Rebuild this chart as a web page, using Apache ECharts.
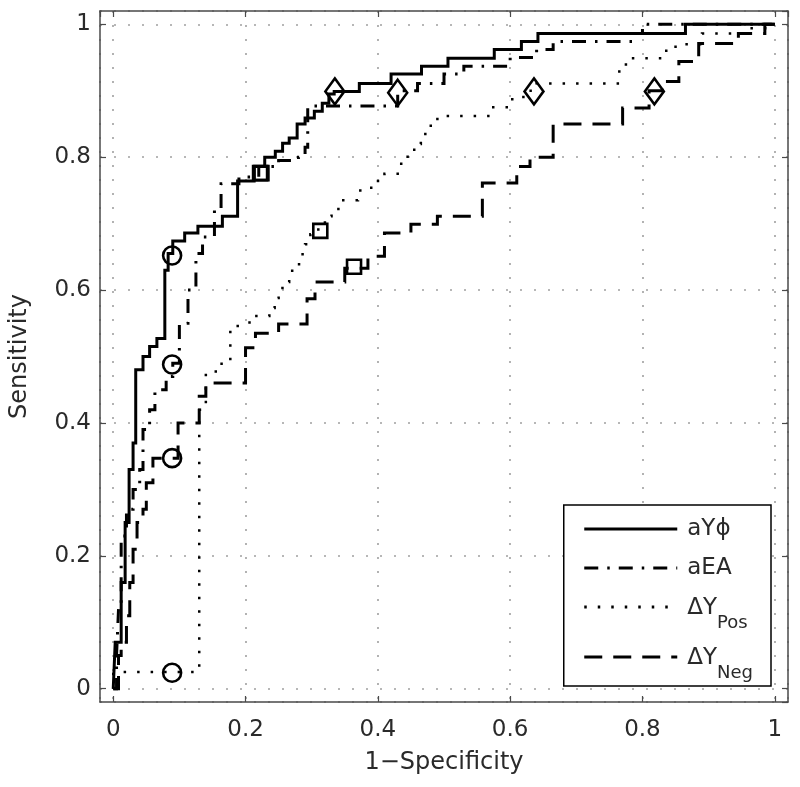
<!DOCTYPE html>
<html>
<head>
<meta charset="utf-8">
<script src="https://cdn.jsdelivr.net/npm/echarts@6/dist/echarts.min.js"></script>
<style>html,body{margin:0;padding:0;background:#fff}#c{width:800px;height:787px}</style>
</head>
<body>
<div id="c"></div>
<script>
// ---- data ----
const seriesNames = ['aYϕ', 'aEA', 'ΔYPos', 'ΔYNeg'];
const tickValues = [0, 0.2, 0.4, 0.6, 0.8, 1];

const aYphiX = [0, 0.003, 0.012, 0.018, 0.024, 0.03, 0.034, 0.045, 0.055, 0.066, 0.078, 0.083, 0.09, 0.108, 0.128, 0.165, 0.188, 0.213, 0.229, 0.245, 0.256, 0.266, 0.278, 0.29, 0.304, 0.316, 0.326, 0.334, 0.372, 0.42, 0.466, 0.506, 0.576, 0.617, 0.642, 0.865, 1.0];
const aYphiY = [0, 0.07, 0.16, 0.25, 0.33, 0.37, 0.48, 0.50, 0.515, 0.527, 0.63, 0.655, 0.674, 0.686, 0.696, 0.711, 0.764, 0.786, 0.80, 0.809, 0.821, 0.829, 0.85, 0.859, 0.869, 0.881, 0.895, 0.899, 0.911, 0.925, 0.937, 0.949, 0.962, 0.974, 0.986, 1.0, 1.0];

const aEAX = [0, 0.005, 0.008, 0.012, 0.02, 0.03, 0.04, 0.045, 0.055, 0.063, 0.08, 0.09, 0.1, 0.113, 0.125, 0.135, 0.153, 0.163, 0.19, 0.22, 0.25, 0.28, 0.29, 0.294, 0.43, 0.46, 0.5, 0.53, 0.6, 0.64, 0.665, 0.785, 0.8, 1.0];
const aEAY = [0, 0.05, 0.12, 0.23, 0.27, 0.30, 0.33, 0.39, 0.42, 0.45, 0.47, 0.49, 0.55, 0.60, 0.655, 0.68, 0.72, 0.76, 0.77, 0.786, 0.795, 0.80, 0.815, 0.877, 0.9, 0.911, 0.925, 0.937, 0.95, 0.962, 0.974, 0.986, 1.0, 1.0];

const dYPosX = [0, 0, 0.13, 0.14, 0.155, 0.168, 0.177, 0.198, 0.206, 0.228, 0.236, 0.244, 0.25, 0.26, 0.266, 0.278, 0.284, 0.29, 0.298, 0.31, 0.32, 0.33, 0.345, 0.37, 0.39, 0.41, 0.43, 0.445, 0.455, 0.465, 0.48, 0.49, 0.567, 0.6, 0.62, 0.64, 0.765, 0.775, 0.83, 0.85, 0.89, 0.96, 0.99, 1.0];
const dYPosY = [0, 0.025, 0.42, 0.474, 0.489, 0.493, 0.546, 0.549, 0.561, 0.561, 0.573, 0.588, 0.603, 0.612, 0.629, 0.639, 0.654, 0.669, 0.684, 0.70, 0.711, 0.722, 0.735, 0.75, 0.764, 0.775, 0.79, 0.805, 0.82, 0.835, 0.85, 0.862, 0.875, 0.887, 0.9, 0.911, 0.932, 0.949, 0.96, 0.97, 0.986, 0.994, 1.0, 1.0];

const dYNegX = [0, 0.008, 0.012, 0.02, 0.025, 0.03, 0.036, 0.045, 0.05, 0.06, 0.098, 0.13, 0.14, 0.2, 0.215, 0.25, 0.293, 0.305, 0.35, 0.385, 0.41, 0.45, 0.49, 0.558, 0.61, 0.63, 0.665, 0.77, 0.81, 0.83, 0.855, 0.885, 0.945, 0.985, 1.0];
const dYNegY = [0, 0.05, 0.07, 0.11, 0.16, 0.21, 0.25, 0.27, 0.31, 0.347, 0.40, 0.44, 0.46, 0.513, 0.535, 0.549, 0.587, 0.612, 0.633, 0.651, 0.686, 0.699, 0.711, 0.761, 0.786, 0.80, 0.85, 0.874, 0.9, 0.914, 0.944, 0.971, 0.986, 1.0, 1.0];

// operating-point markers, order: aYϕ, aEA, ΔYPos, ΔYNeg
const circleX = [0.089, 0.089, 0.089, 0.089];
const circleY = [0.652, 0.488, 0.024, 0.347];
const squareX = [0.224, 0.222, 0.313, 0.364];
const squareY = [0.776, 0.776, 0.689, 0.635];
const diamondX = [0.335, 0.43, 0.636, 0.818];
const diamondY = [0.899, 0.897, 0.899, 0.899];

// ---- build chart ----
const zip = (xs, ys) => xs.map((x, i) => [x, ys[i]]);
const FONT = 'DejaVu Sans';
const TXT = '#2a2a2a';
const FRAME = '#4a4a4a';

const lineStyles = [
  { width: 3, type: 'solid' },
  { width: 3, type: [14, 9, 2.5, 9] },
  { width: 2.5, type: [2.5, 11] },
  { width: 3, type: [18, 11] }
];
const curves = [zip(aYphiX, aYphiY), zip(aEAX, aEAY), zip(dYPosX, dYPosY), zip(dYNegX, dYNegY)];

const series = curves.map((d, i) => ({
  name: seriesNames[i], type: 'line', step: 'end', data: d,
  symbol: 'none', showSymbol: false, z: 3,
  lineStyle: Object.assign({ color: '#000', cap: 'butt', join: 'miter' }, lineStyles[i]),
  itemStyle: { color: '#000' }, animation: false, silent: true
}));

const markerStyle = { color: 'rgba(0,0,0,0)', borderColor: '#000', borderWidth: 2.6, opacity: 1 };
series.push({ name: 'circles', type: 'scatter', symbol: 'circle', symbolSize: 18, data: zip(circleX, circleY), itemStyle: markerStyle, z: 5, silent: true, animation: false });
series.push({ name: 'squares', type: 'scatter', symbol: 'rect', symbolSize: 14, data: zip(squareX, squareY), itemStyle: markerStyle, z: 5, silent: true, animation: false });
series.push({ name: 'diamonds', type: 'scatter', symbol: 'diamond', symbolSize: [19, 26], data: zip(diamondX, diamondY), itemStyle: markerStyle, z: 5, silent: true, animation: false });

const legendLabel = {
  'aYϕ': '{m|aYϕ}',
  'aEA': '{m|aEA}',
  'ΔYPos': '{mm|ΔY}{s|Pos}',
  'ΔYNeg': '{mm|ΔY}{s|Neg}'
};

const baseAxis = (extra) => Object.assign({
  type: 'value', min: -0.02, max: 1.02, splitNumber: 5,
  axisLine: { show: true, onZero: false, lineStyle: { color: FRAME, width: 1.5 } },
  axisTick: { show: true, inside: true, length: 6, lineStyle: { color: FRAME, width: 1.2 } },
  splitLine: { show: false },
  axisLabel: { show: false }
}, extra);

const mainLabel = {
  show: true, fontFamily: FONT, fontSize: 23, color: TXT,
  showMinLabel: false, showMaxLabel: false,
  formatter: v => (tickValues.some(t => Math.abs(t - v) < 1e-9) ? String(+v.toFixed(1)) : '')
};
const gridLine = { show: true, lineStyle: { color: '#a0a0a0', width: 1.6, type: [2, 12] } };

const option = {
  backgroundColor: '#fff',
  animation: false,
  textStyle: { fontFamily: FONT },
  grid: { left: 97, right: 12, top: 11, bottom: 85, containLabel: false },
  xAxis: [
    baseAxis({ position: 'bottom', axisLabel: Object.assign({ margin: 17 }, mainLabel), splitLine: gridLine,
      name: '1−Specificity', nameLocation: 'middle', nameGap: 49,
      nameTextStyle: { fontFamily: FONT, fontSize: 24, color: TXT } }),
    baseAxis({ position: 'top' })
  ],
  yAxis: [
    baseAxis({ position: 'left', axisLabel: Object.assign({ margin: 9 }, mainLabel), splitLine: gridLine,
      name: 'Sensitivity', nameLocation: 'middle', nameGap: 68, nameRotate: 90,
      nameTextStyle: { fontFamily: FONT, fontSize: 24, color: TXT } }),
    baseAxis({ position: 'right' })
  ],
  legend: {
    data: seriesNames,
    orient: 'vertical', right: 29, bottom: 101,
    itemWidth: 93, itemHeight: 14, itemGap: 12,
    padding: [11, 18, 4, 19],
    backgroundColor: '#fff', borderColor: '#000', borderWidth: 1.5,
    selectedMode: false,
    itemStyle: { color: 'rgba(0,0,0,0)', borderColor: 'rgba(0,0,0,0)', borderWidth: 0 },
    lineStyle: { width: 3 },
    formatter: n => legendLabel[n],
    textStyle: {
      fontFamily: FONT, fontSize: 23, color: TXT,
      rich: {
        m: { fontFamily: FONT, fontSize: 23, lineHeight: 26, color: TXT, padding: [2, 0, 2, 5], verticalAlign: 'top' },
        mm: { fontFamily: FONT, fontSize: 23, lineHeight: 26, color: TXT, padding: [3, 0, 0, 5], verticalAlign: 'top' },
        s: { fontFamily: FONT, fontSize: 18, lineHeight: 20, color: TXT, padding: [20, 0, 0, 0], verticalAlign: 'top' }
      }
    },
    z: 10
  },
  series: series
};

const chart = echarts.init(document.getElementById('c'), null, { renderer: 'canvas' });
chart.setOption(option);
</script>
</body>
</html>
